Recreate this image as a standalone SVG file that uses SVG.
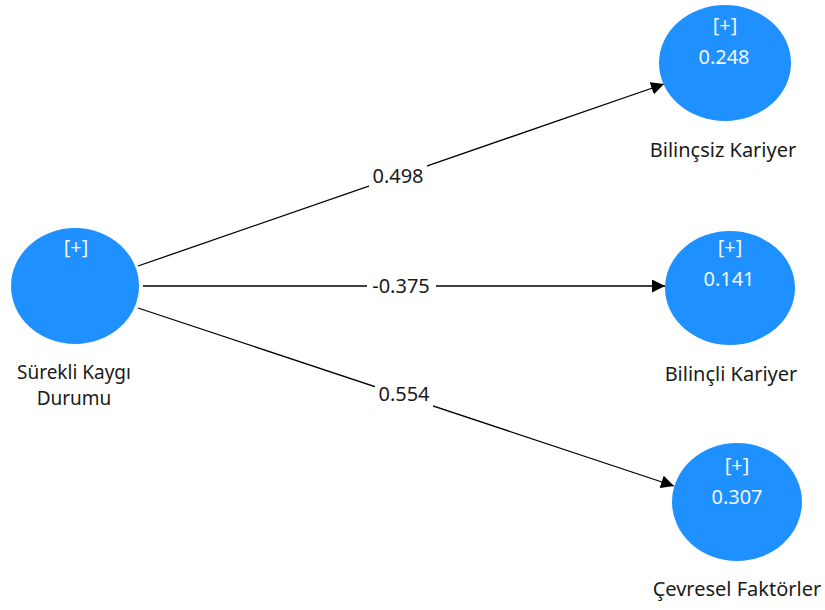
<svg xmlns="http://www.w3.org/2000/svg" width="825" height="610" viewBox="0 0 825 610">
<style>
.node{fill:#1E90FF;}
.in{font-family:"Noto Sans","Open Sans",sans-serif;font-size:20px;fill:#f2f6ff;text-anchor:middle;}
.lbl{font-family:"Noto Sans","Open Sans",sans-serif;font-size:20px;fill:#1a1a1a;text-anchor:middle;}
.src{font-family:"Noto Sans","Open Sans",sans-serif;font-size:19px;fill:#1a1a1a;text-anchor:middle;}
.edge{stroke:#000;stroke-width:1.3;fill:none;marker-end:url(#arr);}
.bg{fill:#ffffff;}
</style>
<defs>
<marker id="arr" viewBox="0 0 10 10" refX="10" refY="5" markerWidth="13" markerHeight="13" markerUnits="userSpaceOnUse" orient="auto">
<path d="M0,0 L10,5 L0,10 z" fill="#000"/>
</marker>
</defs>
<rect width="825" height="610" fill="#ffffff"/>
<g id="connectors">
<line class="edge" x1="138" y1="266" x2="664" y2="84"/>
<line class="edge" x1="143" y1="286" x2="665" y2="286"/>
<line class="edge" x1="138" y1="308" x2="674" y2="486"/>
<rect class="bg" x="369" y="164" width="58" height="24"/>
<text class="lbl" x="398" y="183">0.498</text>
<rect class="bg" x="367" y="275" width="69" height="24"/>
<text class="lbl" x="401" y="293">-0.375</text>
<rect class="bg" x="375" y="383" width="58" height="24"/>
<text class="lbl" x="404" y="401">0.554</text>
</g>
<g id="surekli">
<ellipse class="node" cx="75" cy="286" rx="64" ry="58"/>
<text class="in" x="76" y="254">[+]</text>
<text class="src" x="74" y="379">Sürekli Kaygı</text>
<text class="src" x="74" y="405">Durumu</text>
</g>
<g id="bilincsiz">
<ellipse class="node" cx="725" cy="63" rx="66" ry="58"/>
<text class="in" x="725" y="32">[+]</text>
<text class="in" x="724" y="64">0.248</text>
<text class="lbl" x="723" y="157">Bilinçsiz Kariyer</text>
</g>
<g id="bilincli">
<ellipse class="node" cx="730" cy="288" rx="65" ry="57"/>
<text class="in" x="730" y="254">[+]</text>
<text class="in" x="729" y="286">0.141</text>
<text class="lbl" x="731" y="381">Bilinçli Kariyer</text>
</g>
<g id="cevresel">
<ellipse class="node" cx="737" cy="502" rx="65" ry="59"/>
<text class="in" x="737" y="472">[+]</text>
<text class="in" x="737" y="504">0.307</text>
<text class="lbl" x="737" y="596">Çevresel Faktörler</text>
</g>
</svg>
